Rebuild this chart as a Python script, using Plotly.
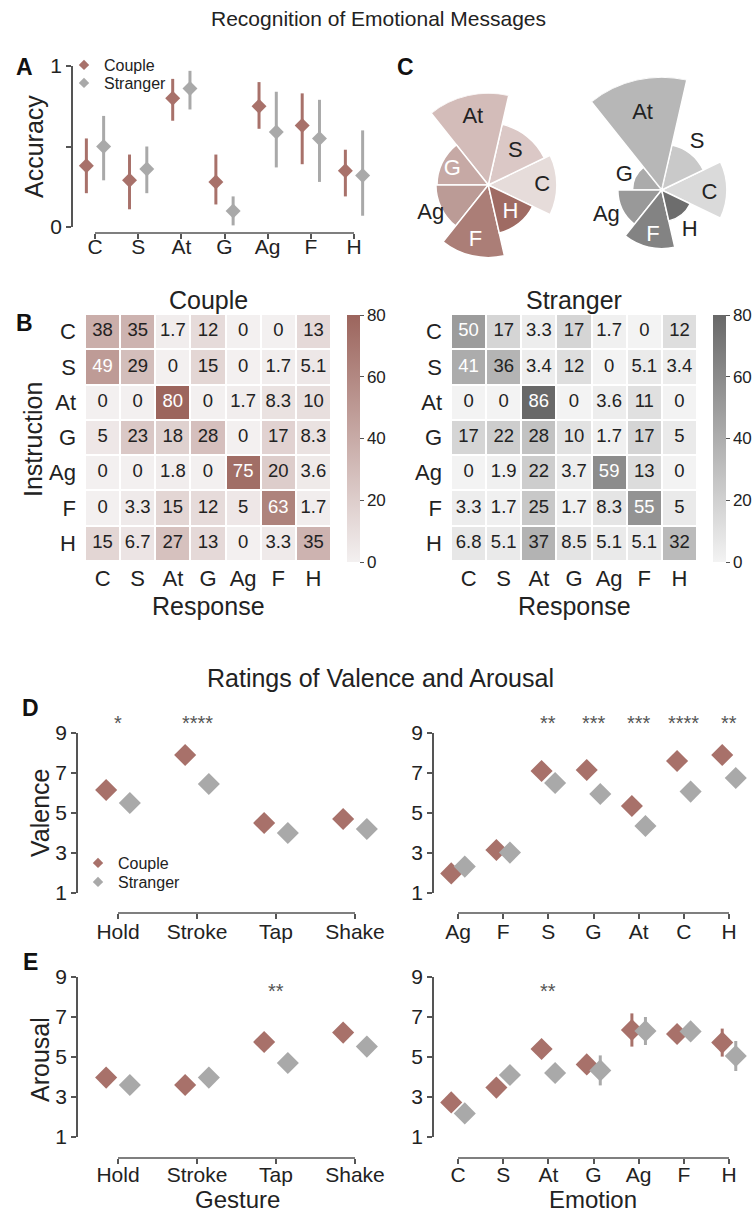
import math
import numpy as np
import plotly.graph_objects as go

W, H = 756, 1213
FONT = "Liberation Sans, Arial, sans-serif"
INK = "#222222"
AXIS = "#555555"
COUPLE = "#a8716a"
STRANGER = "#a9a9a9"

# ---------------- data ----------------
emotions = ["C", "S", "At", "G", "Ag", "F", "H"]

# confusion matrices (% of responses); rows = instruction, columns = response
couple_conf = [
    [38, 35, 1.7, 12, 0, 0, 13],
    [49, 29, 0, 15, 0, 1.7, 5.1],
    [0, 0, 80, 0, 1.7, 8.3, 10],
    [5, 23, 18, 28, 0, 17, 8.3],
    [0, 0, 1.8, 0, 75, 20, 3.6],
    [0, 3.3, 15, 12, 5, 63, 1.7],
    [15, 6.7, 27, 13, 0, 3.3, 35],
]
stranger_conf = [
    [50, 17, 3.3, 17, 1.7, 0, 12],
    [41, 36, 3.4, 12, 0, 5.1, 3.4],
    [0, 0, 86, 0, 3.6, 11, 0],
    [17, 22, 28, 10, 1.7, 17, 5],
    [0, 1.9, 22, 3.7, 59, 13, 0],
    [3.3, 1.7, 25, 1.7, 8.3, 55, 5],
    [6.8, 5.1, 37, 8.5, 5.1, 5.1, 32],
]

# panel A: confidence intervals of accuracy
couple_acc_lo = [0.21, 0.11, 0.66, 0.14, 0.61, 0.39, 0.19]
couple_acc_hi = [0.55, 0.45, 0.92, 0.45, 0.90, 0.83, 0.48]
stranger_acc_lo = [0.29, 0.21, 0.73, 0.01, 0.37, 0.28, 0.07]
stranger_acc_hi = [0.69, 0.50, 0.97, 0.19, 0.84, 0.79, 0.60]

# panel D / E
gestures = ["Hold", "Stroke", "Tap", "Shake"]
valence_gesture_couple = [6.15, 7.9, 4.5, 4.7]
valence_gesture_stranger = [5.5, 6.45, 4.0, 4.2]
valence_gesture_sig = ["*", "****", "", ""]

valence_emotions = ["Ag", "F", "S", "G", "At", "C", "H"]
valence_emotion_couple = [1.98, 3.15, 7.1, 7.15, 5.35, 7.6, 7.9]
valence_emotion_stranger = [2.32, 3.02, 6.5, 5.95, 4.35, 6.07, 6.75]
valence_emotion_sig = ["", "", "**", "***", "***", "****", "**"]

arousal_gesture_couple = [3.97, 3.6, 5.75, 6.22]
arousal_gesture_stranger = [3.6, 3.97, 4.7, 5.52]
arousal_gesture_sig = ["", "", "**", ""]

arousal_emotions = ["C", "S", "At", "G", "Ag", "F", "H"]
arousal_emotion_couple = [2.73, 3.47, 5.4, 4.63, 6.35, 6.15, 5.72]
arousal_emotion_stranger = [2.18, 4.1, 4.2, 4.33, 6.3, 6.28, 5.05]
arousal_emotion_couple_err = [0.3, 0.3, 0.3, 0.35, 0.83, 0.45, 0.7]
arousal_emotion_stranger_err = [0.3, 0.3, 0.3, 0.75, 0.7, 0.35, 0.75]
arousal_emotion_sig = ["", "", "**", "", "", "", ""]

# ---------------- styles ----------------
couple_sector_colors = ["#e6dcda", "#dbc8c6", "#d3bcb9", "#c6a9a5", "#bb9b96", "#ab7e77", "#9f6b63"]
stranger_sector_colors = ["#dadada", "#c9c9c9", "#b7b7b7", "#ababab", "#999999", "#838383", "#6d6d6d"]
couple_label_colors = [INK, INK, INK, "white", INK, "white", "white"]
stranger_label_colors = [INK, INK, INK, INK, INK, "white", INK]
couple_label_rpx = [54, 43, 69, 39, 64, 57, 35]
couple_label_theta = [0, 51, 103, 157, 206, 257, 309]
stranger_label_rpx = [48, 59, 79, 40, 61, 46, 49]
stranger_label_theta = [-4, 53, 104, 159, 205, 259, 305]


def fx(px):
    return px / W


def fy(py):
    return 1 - py / H


fig = go.Figure()
shapes = []
annotations = []


def ann(text, x, y, size, xref="paper", yref="paper", bold=False, angle=0, color=INK,
        xanchor="center", yanchor="middle"):
    annotations.append(dict(
        text=f"<b>{text}</b>" if bold else text, x=x, y=y, xref=xref, yref=yref,
        showarrow=False, textangle=angle, xanchor=xanchor, yanchor=yanchor,
        font=dict(family=FONT, size=size, color=color)))


def cat_xaxis(d0, d1, first_px, last_px, n, pos_py, ticktext, name, standoff):
    step = (last_px - first_px) / (n - 1)
    shapes.append(dict(type="line", xref=name, yref="paper", x0=0, x1=n - 1,
                       y0=fy(pos_py), y1=fy(pos_py), line=dict(color=AXIS, width=1.5)))
    return dict(domain=[fx(d0), fx(d1)], range=[(d0 - first_px) / step, (d1 - first_px) / step],
                anchor="free", position=fy(pos_py), showline=False, showgrid=False, zeroline=False,
                ticks="outside", ticklen=5, tickwidth=1.5, tickcolor=AXIS,
                tickvals=list(range(n)), ticktext=ticktext, ticklabelstandoff=standoff,
                tickfont=dict(family=FONT, size=21, color=INK))


def val_yaxis(top_py, bot_py, rng, tickvals, ticktext, anchor):
    return dict(domain=[fy(bot_py), fy(top_py)], range=rng, anchor=anchor,
                showline=True, linecolor=AXIS, linewidth=1.5, showgrid=False, zeroline=False,
                ticks="outside", ticklen=5, tickwidth=1.5, tickcolor=AXIS,
                tickvals=tickvals, ticktext=ticktext,
                tickfont=dict(family=FONT, size=21, color=INK))


def pair_traces(xax, yax, cats, cvals, svals, off, size, cerr=None, serr=None, clo=None, chi=None,
                slo=None, shi=None):
    xs = np.arange(len(cats))
    for vals, col, sgn, err, lo, hi in [(cvals, COUPLE, -1, cerr, clo, chi),
                                         (svals, STRANGER, 1, serr, slo, shi)]:
        vals = np.asarray(vals, dtype=float)
        if lo is not None:
            ey = dict(type="data", symmetric=False, array=np.asarray(hi) - vals,
                      arrayminus=vals - np.asarray(lo), color=col, thickness=3, width=0)
        elif err is not None:
            ey = dict(type="data", array=err, color=col, thickness=3, width=0)
        else:
            ey = None
        fig.add_trace(go.Scatter(
            x=xs + sgn * off, y=vals, mode="markers", xaxis=xax, yaxis=yax,
            marker=dict(symbol="diamond", size=size, color=col, line=dict(width=0)),
            error_y=ey, showlegend=False, cliponaxis=False, hoverinfo="skip"))


def legend_traces(legends, xax, yax, size):
    for (name, col), leg in zip([("Couple", COUPLE), ("Stranger", STRANGER)], legends):
        fig.add_trace(go.Scatter(x=[None], y=[None], mode="markers", name=name, legend=leg,
                                 xaxis=xax, yaxis=yax,
                                 marker=dict(symbol="diamond", size=size, color=col)))


# ---------------- Panel A ----------------
couple_acc = np.diag(np.array(couple_conf)) / 100
stranger_acc = np.diag(np.array(stranger_conf)) / 100
pair_traces("x", "y", emotions, couple_acc, stranger_acc, 0.2, 11.5,
            clo=couple_acc_lo, chi=couple_acc_hi, slo=stranger_acc_lo, shi=stranger_acc_hi)
legend_traces(["legend", "legend2"], "x", "y", 8)
xaxis1 = cat_xaxis(73, 372, 95, 354, 7, 233, emotions, "x", -10)
yaxis1 = val_yaxis(66, 227, [0, 1], [0, 0.5, 1], ["0", "", "1"], "x")

# ---------------- Panel B (heatmaps) ----------------
def heat(conf, cscale, xax, yax, cb_x):
    fig.add_trace(go.Heatmap(
        z=conf, x=emotions, y=emotions, colorscale=cscale, zmin=0, zmax=80,
        xgap=2, ygap=2, xaxis=xax, yaxis=yax, hoverinfo="skip",
        colorbar=dict(x=fx(cb_x), xanchor="left", xpad=0, y=fy(438.5), yanchor="middle", ypad=0,
                      len=247, lenmode="pixels", thickness=13, thicknessmode="pixels",
                      outlinewidth=0, tickvals=[0, 20, 40, 60, 80], ticks="outside", ticklen=4,
                      tickcolor=AXIS, tickfont=dict(family=FONT, size=17, color=INK))))
    xs, ys, txt, cols = [], [], [], []
    for r, row in zip(emotions, conf):
        for c, v in zip(emotions, row):
            xs.append(c)
            ys.append(r)
            txt.append(f"{v:g}")
            cols.append("white" if v >= 40 else INK)
    fig.add_trace(go.Scatter(x=xs, y=ys, text=txt, mode="text", xaxis=xax, yaxis=yax,
                             textfont=dict(family=FONT, size=18.5, color=cols),
                             showlegend=False, hoverinfo="skip"))


heat(couple_conf, [[0, "#f3f0f0"], [1, "#9c655d"]], "x2", "y2", 347)
heat(stranger_conf, [[0, "#f3f3f3"], [1, "#686868"]], "x3", "y3", 713)


def heat_axes(d0, d1):
    xa = dict(domain=[fx(d0), fx(d1)], showline=False, showgrid=False, zeroline=False, ticks="",
              ticklabelstandoff=2, tickfont=dict(family=FONT, size=22, color=INK))
    ya = dict(domain=[fy(561), fy(314)], autorange="reversed", showline=False, showgrid=False,
              zeroline=False, ticks="", ticklabelstandoff=8,
              tickfont=dict(family=FONT, size=22, color=INK))
    return xa, ya


xaxis2, yaxis2 = heat_axes(85, 331)
xaxis3, yaxis3 = heat_axes(451, 697)
xaxis2["anchor"] = "y2"; yaxis2["anchor"] = "x2"
xaxis3["anchor"] = "y3"; yaxis3["anchor"] = "x3"

# ---------------- Panel C (rose charts) ----------------
couple_freq = np.array(couple_conf).sum(axis=0)
stranger_freq = np.array(stranger_conf).sum(axis=0)
n = len(emotions)
step_deg = 360 / n
theta_c = [i * step_deg for i in range(n)]


def sector_bbox(s0, s1):
    arc = s1 - s0
    a0 = s0 % 360
    a1 = a0 + arc
    ax0, ay0 = math.cos(math.radians(a0)), math.sin(math.radians(a0))
    ax1, ay1 = math.cos(math.radians(a1)), math.sin(math.radians(a1))
    if (a0 <= 90 and a1 >= 90) or (a0 > 90 and a1 >= 450):
        y1 = 1
    elif ay0 <= 0 and ay1 <= 0:
        y1 = 0
    else:
        y1 = max(ay0, ay1)
    if (a0 <= 180 and a1 >= 180) or (a0 > 180 and a1 >= 540):
        x0 = -1
    elif ax0 >= 0 and ax1 >= 0:
        x0 = 0
    else:
        x0 = min(ax0, ax1)
    if (a0 <= 270 and a1 >= 270) or (a0 > 270 and a1 >= 630):
        y0 = -1
    elif ay0 >= 0 and ay1 >= 0:
        y0 = 0
    else:
        y0 = min(ay0, ay1)
    if a1 >= 360:
        x1 = 1
    elif ax0 <= 0 and ax1 <= 0:
        x1 = 0
    else:
        x1 = max(ax0, ax1)
    return x0, y0, x1, y1


polars = {}


def add_polar(name, cx, cy, rpx, rmax, sector=None):
    if sector is None:
        bx0, by0, bx1, by1 = -1, -1, 1, 1
    else:
        bx0, by0, bx1, by1 = sector_bbox(*sector)
    dom = dict(x=[fx(cx + rpx * bx0), fx(cx + rpx * bx1)],
               y=[fy(cy - rpx * by0), fy(cy - rpx * by1)])
    p = dict(domain=dom, bgcolor="rgba(0,0,0,0)",
             radialaxis=dict(visible=False, range=[0, rmax]),
             angularaxis=dict(visible=False, rotation=0, direction="counterclockwise"))
    if sector is not None:
        p["sector"] = list(sector)
    polars[name] = p


def rose(freq, colors, lab_rpx, lab_theta, lab_cols, cx, cy, rpx_max, rpx_main, base_id):
    scale = rpx_max / max(freq)
    pid = base_id
    main = f"polar{pid}" if pid > 1 else "polar"
    add_polar(main, cx, cy, rpx_main, rpx_main / scale)
    groups = {main: []}
    for i, v in enumerate(freq):
        if v * scale > rpx_main:
            pid += 1
            name = f"polar{pid}"
            half = step_deg / 2 + 1.5
            add_polar(name, cx, cy, rpx_max, rpx_max / scale,
                      sector=(theta_c[i] - half, theta_c[i] + half))
            groups[name] = [i]
        else:
            groups[main].append(i)
    for sub, idx in groups.items():
        fig.add_trace(go.Barpolar(
            r=[freq[i] for i in idx], theta=[theta_c[i] for i in idx],
            width=[step_deg] * len(idx), subplot=sub,
            marker=dict(color=[colors[i] for i in idx], line=dict(color="white", width=1.5)),
            showlegend=False, hoverinfo="skip"))
        fig.add_trace(go.Scatterpolar(
            r=[lab_rpx[i] / scale for i in idx], theta=[lab_theta[i] for i in idx],
            text=[emotions[i] for i in idx], mode="text", subplot=sub, cliponaxis=False,
            textfont=dict(family=FONT, size=22, color=[lab_cols[i] for i in idx]),
            showlegend=False, hoverinfo="skip"))
    return pid


last = rose(couple_freq, couple_sector_colors, couple_label_rpx, couple_label_theta,
            couple_label_colors, 488.3, 185, 92, 92, 1)
rose(stranger_freq, stranger_sector_colors, stranger_label_rpx, stranger_label_theta,
     stranger_label_colors, 661.7, 190, 113, 94, last + 1)

# ---------------- Panel D ----------------
pair_traces("x4", "y4", gestures, valence_gesture_couple, valence_gesture_stranger, 0.15, 17,
            cerr=[0.3] * 4, serr=[0.3] * 4)
legend_traces(["legend3", "legend4"], "x4", "y4", 8)
xaxis4 = cat_xaxis(78, 380, 118, 355, 4, 913, gestures, "x4", -5)
yaxis4 = val_yaxis(733, 893, [1, 9], [1, 3, 5, 7, 9], None, "x4")

pair_traces("x5", "y5", valence_emotions, valence_emotion_couple, valence_emotion_stranger, 0.15, 17,
            cerr=[0.3] * 7, serr=[0.3] * 7)
xaxis5 = cat_xaxis(434, 745, 458, 729, 7, 913, valence_emotions, "x5", -5)
yaxis5 = val_yaxis(733, 893, [1, 9], [1, 3, 5, 7, 9], None, "x5")

# ---------------- Panel E ----------------
pair_traces("x6", "y6", gestures, arousal_gesture_couple, arousal_gesture_stranger, 0.15, 17,
            cerr=[0.3] * 4, serr=[0.3] * 4)
xaxis6 = cat_xaxis(78, 380, 118, 355, 4, 1158, gestures, "x6", -7)
yaxis6 = val_yaxis(977, 1137, [1, 9], [1, 3, 5, 7, 9], None, "x6")

pair_traces("x7", "y7", arousal_emotions, arousal_emotion_couple, arousal_emotion_stranger, 0.15, 17,
            cerr=arousal_emotion_couple_err, serr=arousal_emotion_stranger_err)
xaxis7 = cat_xaxis(434, 745, 458, 729, 7, 1158, arousal_emotions, "x7", -7)
yaxis7 = val_yaxis(977, 1137, [1, 9], [1, 3, 5, 7, 9], None, "x7")

# significance stars
for xref, sig, py in [("x4", valence_gesture_sig, 723), ("x5", valence_emotion_sig, 723),
                      ("x6", arousal_gesture_sig, 991), ("x7", arousal_emotion_sig, 991)]:
    for i, s in enumerate(sig):
        if s:
            ann(s, i, fy(py), 20, xref=xref, color="#555555")

# ---------------- text ----------------
ann("Recognition of Emotional Messages", fx(378), fy(18), 21)
ann("Ratings of Valence and Arousal", fx(380), fy(678), 25)
for letter, px, py in [("A", 24, 67), ("B", 24, 323), ("C", 405, 67), ("D", 30, 708), ("E", 30, 962)]:
    ann(letter, fx(px), fy(py), 23, bold=True, color="#111111")
ann("Accuracy", fx(34), fy(147), 25, angle=-90)
ann("Instruction", fx(33), fy(440), 25, angle=-90)
ann("Valence", fx(40), fy(813), 25, angle=-90)
ann("Arousal", fx(40), fy(1060), 25, angle=-90)
ann("Couple", fx(208), fy(300), 25)
ann("Stranger", fx(574), fy(300), 25)
ann("Response", fx(208), fy(606), 25)
ann("Response", fx(574), fy(606), 25)
ann("Gesture", fx(237), fy(1199), 24)
ann("Emotion", fx(593), fy(1199), 24)

legend_common = dict(bgcolor="rgba(0,0,0,0)", borderwidth=0, itemwidth=30, tracegroupgap=0,
                     font=dict(family=FONT, size=16, color=INK), xanchor="left", yanchor="top")

layout = dict(
    width=W, height=H, margin=dict(l=0, r=0, t=0, b=0),
    paper_bgcolor="white", plot_bgcolor="rgba(0,0,0,0)",
    font=dict(family=FONT, color=INK),
    showlegend=True,
    legend=dict(x=fx(64), y=fy(48), **legend_common),
    legend2=dict(x=fx(64), y=fy(66), **legend_common),
    legend3=dict(x=fx(78), y=fy(846), **legend_common),
    legend4=dict(x=fx(78), y=fy(865), **legend_common),
    xaxis=xaxis1, yaxis=yaxis1, xaxis2=xaxis2, yaxis2=yaxis2, xaxis3=xaxis3, yaxis3=yaxis3,
    xaxis4=xaxis4, yaxis4=yaxis4, xaxis5=xaxis5, yaxis5=yaxis5,
    xaxis6=xaxis6, yaxis6=yaxis6, xaxis7=xaxis7, yaxis7=yaxis7,
    shapes=shapes, annotations=annotations,
)
layout.update(polars)
fig.update_layout(template="none")
fig.update_layout(**layout)
fig.write_html("out.html")
